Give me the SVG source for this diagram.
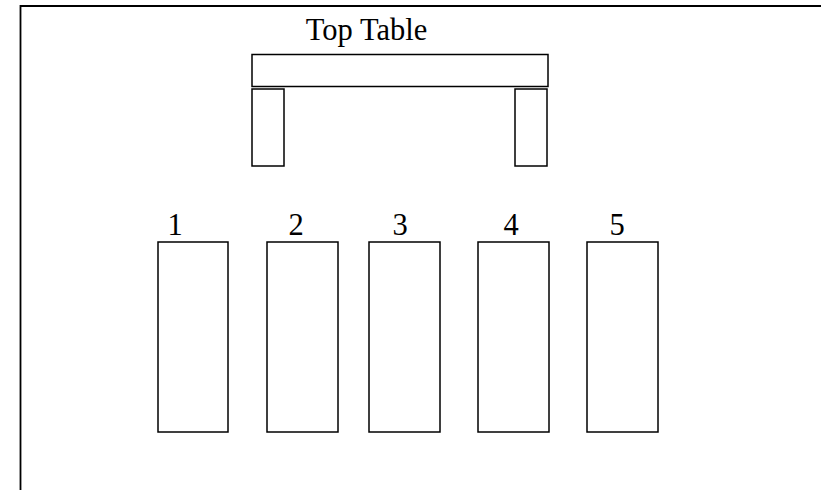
<svg xmlns="http://www.w3.org/2000/svg" width="821" height="490" viewBox="0 0 821 490">
<style>
.t{fill:#fff;stroke:#000;stroke-width:1.5}
.lbl{font-family:"Liberation Serif","Times New Roman",serif;font-size:30.5px;fill:#000}
</style>
<rect width="821" height="490" fill="#fff"/>
<g id="room"><path d="M20.5,490 V6 H821" fill="none" stroke="#000" stroke-width="1.8"/></g>
<g id="top-table">
<rect class="t" x="252" y="54.5" width="296" height="32"/>
<text class="lbl" x="366.5" y="40" text-anchor="middle">Top Table</text>
</g>
<g id="leg-left"><rect class="t" x="252" y="89" width="32" height="77"/></g>
<g id="leg-right"><rect class="t" x="515" y="89" width="32" height="77"/></g>
<g id="table1"><rect class="t" x="158" y="242" width="70" height="190"/><text class="lbl" x="175" y="235" text-anchor="middle">1</text></g>
<g id="table2"><rect class="t" x="267" y="242" width="71" height="190"/><text class="lbl" x="296" y="235" text-anchor="middle">2</text></g>
<g id="table3"><rect class="t" x="369" y="242" width="71" height="190"/><text class="lbl" x="400" y="235" text-anchor="middle">3</text></g>
<g id="table4"><rect class="t" x="478" y="242" width="71" height="190"/><text class="lbl" x="511" y="235" text-anchor="middle">4</text></g>
<g id="table5"><rect class="t" x="587" y="242" width="71" height="190"/><text class="lbl" x="617" y="235" text-anchor="middle">5</text></g>
<g id="connectors"/>
</svg>
